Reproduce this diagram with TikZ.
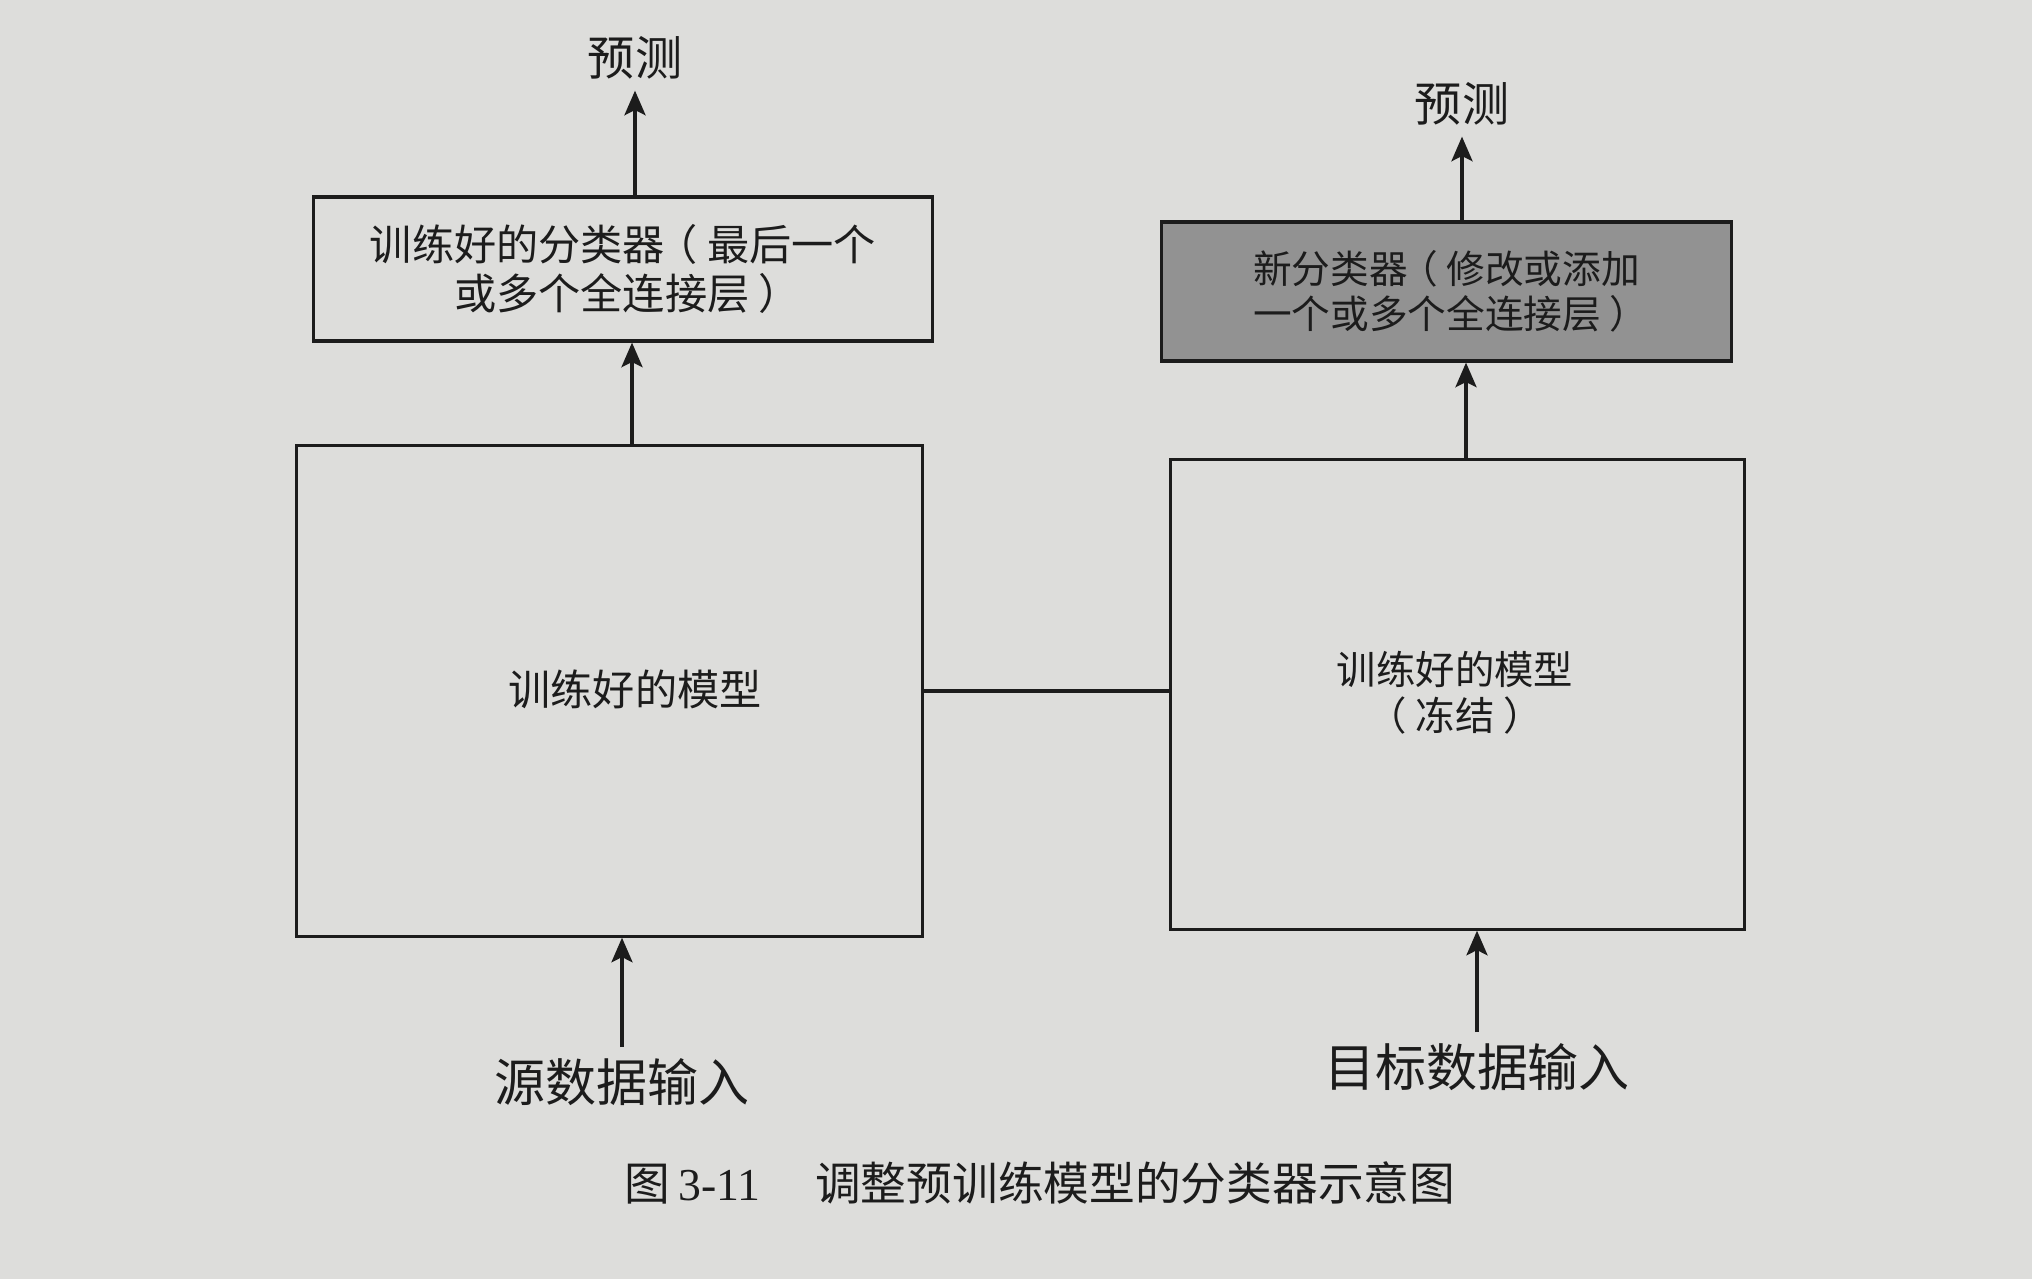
\documentclass[tikz,border=0pt]{standalone}
\usepackage{fontspec}
\setmainfont{Liberation Serif}
\newfontfamily\cjk{Noto Sans CJK SC}
\usetikzlibrary{arrows.meta,calc}
\definecolor{paper}{RGB}{221,221,219}
\definecolor{darkbox}{RGB}{146,146,146}
\definecolor{ink}{RGB}{28,28,28}
\newcommand\lpar{\makebox[1em][l]{\hspace{-0.22em}（}}
\newcommand\rpar{\makebox[1em][l]{\hspace{0.22em}）}}
\begin{document}
\begin{tikzpicture}[x=0.01cm,y=-0.01cm,
  box/.style={draw=ink,line width=0.9pt,inner sep=0pt,align=center,text=ink},
  lbl/.style={inner sep=3pt,text=ink,font=\cjk\fontsize{13.4pt}{15pt}\selectfont},
  inlbl/.style={inner sep=3pt,text=ink,font=\cjk\fontsize{14.5pt}{16pt}\selectfont},
  conn/.style={draw=ink,line width=0.9pt},
  arr/.style={conn,-{Stealth[length=7pt,width=6pt,inset=1.5pt]}}]
\fill[paper] (0,0) rectangle (2032,1279);
\useasboundingbox (0,0) rectangle (2032,1279);

% left column
\node[box,minimum width=6.18cm,minimum height=1.44cm,
  font=\cjk\fontsize{12pt}{13.9pt}\selectfont] (ltop) at (623,269)
  {训练好的分类器\lpar 最后一个\\或多个全连接层\rpar};
\node[box,minimum width=6.25cm,minimum height=4.90cm] (lbig) at (609.5,691) {};
\node[text=ink,font=\cjk\fontsize{12pt}{13.7pt}\selectfont] (lbigt) at (635,689) {训练好的模型};
\node[lbl] (lpred) at (635,58) {预测};
\node[inlbl] (src) at (622,1082) {源数据输入};

% right column
\node[box,fill=darkbox,minimum width=5.69cm,minimum height=1.39cm,
  font=\cjk\fontsize{11pt}{12.8pt}\selectfont] (rtop) at (1446.5,291.5)
  {新分类器\lpar 修改或添加\\一个或多个全连接层\rpar};
\node[box,minimum width=5.73cm,minimum height=4.69cm] (rbig) at (1457.5,694.5) {};
\node[text=ink,align=center,font=\cjk\fontsize{11.2pt}{13pt}\selectfont] (rbigt) at (1455,693)
  {训练好的模型\\\lpar 冻结\rpar};
\node[lbl] (rpred) at (1462,104) {预测};
\node[inlbl] (tgt) at (1477,1067) {目标数据输入};

% caption
\node[text=ink,font=\fontsize{13pt}{15pt}\selectfont] (cap) at (1040,1183)
  {{\cjk 图}\,3-11\hspace{1.2em}{\cjk 调整预训练模型的分类器示意图}};

% connectors
\draw[arr] (ltop.north -| lpred.south) -- (lpred.south);
\draw[arr] ([xshift=0.225cm]lbig.north) -- ([xshift=0.225cm]lbig.north |- ltop.south);
\draw[arr] (src.north) -- (src.north |- lbig.south);
\draw[conn] (lbig.east) -- (lbig.east -| rbig.west);
\draw[arr] (rtop.north -| rpred.south) -- (rpred.south);
\draw[arr] ([xshift=0.085cm]rbig.north) -- ([xshift=0.085cm]rbig.north |- rtop.south);
\draw[arr] (tgt.north) -- (tgt.north |- rbig.south);
\end{tikzpicture}
\end{document}
